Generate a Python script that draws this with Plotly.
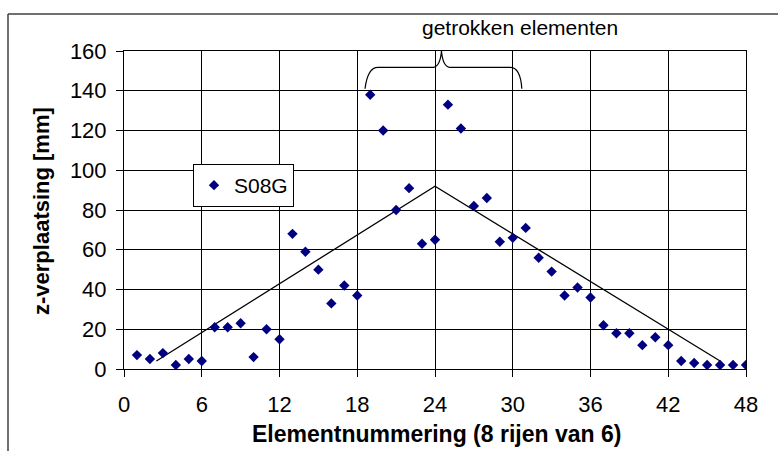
import plotly.graph_objects as go

# Element number (1..48) and measured z-displacement in mm
elements = list(range(1, 49))
z_disp = [7, 5, 8, 2, 5, 4, 21, 21, 23, 6, 20, 15,
          68, 59, 50, 33, 42, 37, 138, 120, 80, 91, 63, 65,
          133, 121, 82, 86, 64, 66, 71, 56, 49, 37, 41, 36,
          22, 18, 18, 12, 16, 12, 4, 3, 2, 2, 2, 2]

# Reference line (triangular profile)
trend_x = [2.5, 24, 46]
trend_y = [4, 92, 4]

x_ticks = [0, 6, 12, 18, 24, 30, 36, 42, 48]
y_ticks = [0, 20, 40, 60, 80, 100, 120, 140, 160]

W, H = 778, 451
ML, MR, MT, MB = 124, 32, 51, 82
PW, PH = W - ML - MR, H - MT - MB


def px_to_paper_x(px):
    return (px - ML) / PW


def px_to_paper_y(py):
    return (H - MB - py) / PH


FONT = "Liberation Sans, Arial, sans-serif"

fig = go.Figure()

fig.add_trace(go.Scatter(
    x=trend_x, y=trend_y, mode="lines",
    line=dict(color="black", width=1.3),
    showlegend=False, hoverinfo="skip",
))

fig.add_trace(go.Scatter(
    x=elements, y=z_disp, mode="markers", name="S08G",
    marker=dict(symbol="diamond", size=8, color="#000080",
                line=dict(width=0)),
))

axis_common = dict(
    showgrid=True, gridcolor="black", gridwidth=1,
    showline=True, linecolor="black", linewidth=1, mirror=True,
    ticks="outside", ticklen=7, tickcolor="black", tickwidth=1,
    zeroline=False,
    tickfont=dict(family=FONT, size=22, color="black"),
)

fig.update_xaxes(range=[0, 48], tickvals=x_ticks, ticklabelstandoff=9,
                 **axis_common)
fig.update_yaxes(range=[0, 160], tickvals=y_ticks, ticklabelstandoff=5,
                 **axis_common)

# Curly brace marking the elements under tension
brace = ("M 18.6,141 Q 18.8,151.8 19.6,151.8 L 23.9,151.8 "
         "Q 24.4,152.4 24.5,160 Q 24.6,152.4 25.1,151.8 "
         "L 29.8,151.8 Q 30.6,151.8 30.7,141")
fig.add_shape(type="path", path=brace, xref="x", yref="y",
              line=dict(color="black", width=1.2))

# Outer chart frame (top and left edges)
fig.add_shape(type="line", xref="paper", yref="paper",
              x0=px_to_paper_x(8), x1=px_to_paper_x(W + 5),
              y0=px_to_paper_y(14), y1=px_to_paper_y(14),
              line=dict(color="#404040", width=1.5))
fig.add_shape(type="line", xref="paper", yref="paper",
              x0=px_to_paper_x(8), x1=px_to_paper_x(8),
              y0=px_to_paper_y(14), y1=px_to_paper_y(H + 5),
              line=dict(color="#404040", width=1.5))

fig.add_annotation(text="getrokken elementen", xref="paper", yref="paper",
                   x=px_to_paper_x(420), y=px_to_paper_y(28),
                   xanchor="left", yanchor="middle", showarrow=False,
                   font=dict(family=FONT, size=21, color="black"))

fig.add_annotation(text="<b>Elementnummering (8 rijen van 6)</b>",
                   xref="paper", yref="paper",
                   x=px_to_paper_x(436), y=px_to_paper_y(434),
                   xanchor="center", yanchor="middle", showarrow=False,
                   font=dict(family=FONT, size=23, color="black"))

fig.add_annotation(text="<b>z-verplaatsing [mm]</b>",
                   xref="paper", yref="paper",
                   x=px_to_paper_x(41), y=px_to_paper_y(211),
                   xanchor="center", yanchor="middle", showarrow=False,
                   textangle=-90,
                   font=dict(family=FONT, size=22, color="black"))

fig.update_layout(
    width=W, height=H,
    margin=dict(l=ML, r=MR, t=MT, b=MB),
    paper_bgcolor="white", plot_bgcolor="white",
    showlegend=True,
    legend=dict(x=px_to_paper_x(193), y=px_to_paper_y(164),
                xanchor="left", yanchor="top",
                bgcolor="white", bordercolor="black", borderwidth=1,
                font=dict(family=FONT, size=21, color="black"),
                itemwidth=30, tracegroupgap=0),
)

fig.write_html("out.html")
